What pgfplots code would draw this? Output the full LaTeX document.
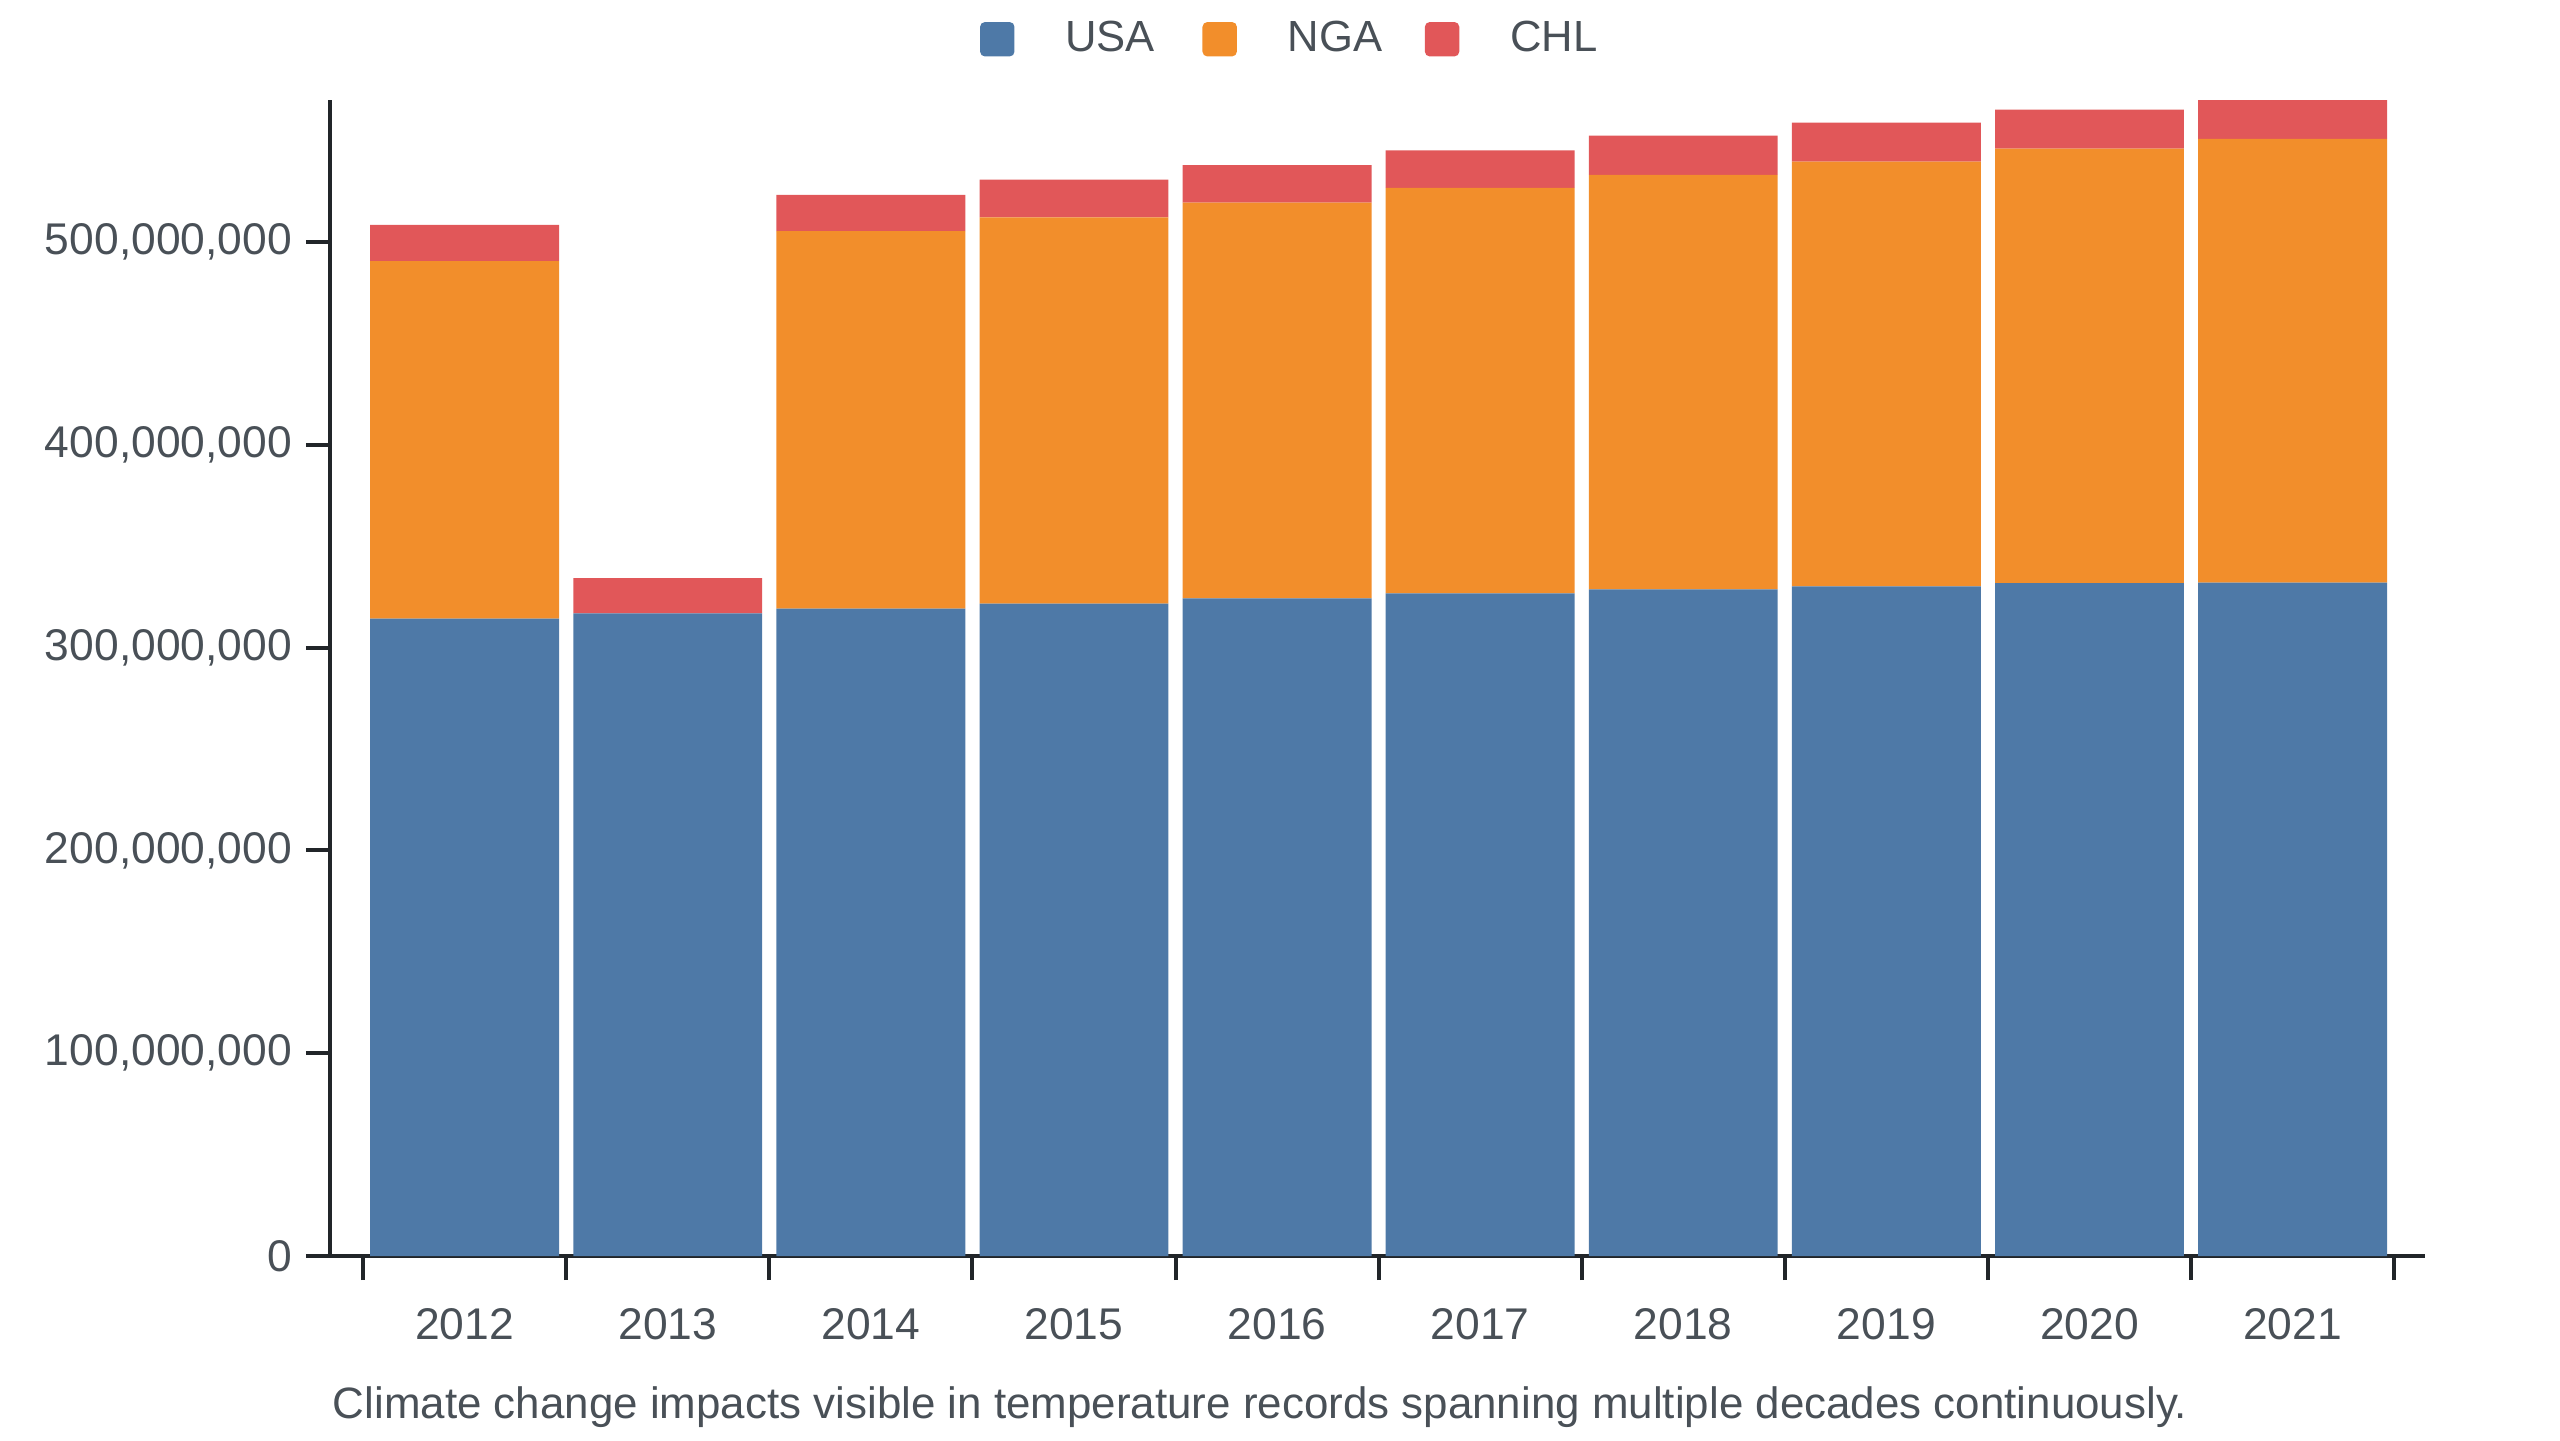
\documentclass[border=0pt]{standalone}
\usepackage{pgfplots}
\pgfplotsset{compat=1.18}
\usepackage{fontspec}
\setmainfont{Liberation Sans}
\definecolor{cUSA}{HTML}{4E79A7}
\definecolor{cNGA}{HTML}{F28E2B}
\definecolor{cCHL}{HTML}{E15759}
\definecolor{txtcol}{HTML}{495057}
\definecolor{axcol}{HTML}{212529}
\newcommand{\lblfont}{\fontsize{10.9}{13}\selectfont}
\newcommand{\capfont}{\fontsize{10.98}{13}\selectfont}
\newcommand{\tickfont}{\fontsize{11.1}{13}\selectfont}
\begin{document}
\begin{tikzpicture}
\useasboundingbox (0,0) rectangle (640pt,360pt);
\begin{axis}[
  at={(82.5pt,46pt)}, anchor=south west,
  scale only axis, width=523.75pt, height=289pt,
  xmin=-0.663, xmax=9.652, ymin=0, ymax=570000000,
  axis x line=bottom, axis y line=left,
  axis line style={-, line width=1pt, draw=axcol},
  tick align=outside, major tick length=6pt, minor tick length=6pt,
  tick style={line width=1pt, draw=axcol},
  xtick={0,...,9},
  xticklabels={2012,2013,2014,2015,2016,2017,2018,2019,2020,2021},
  xticklabel style={yshift=-3.7pt},
  minor xtick={-0.5,0.5,...,9.5},
  major x tick style={draw=none},
  ytick={0,100000000,200000000,300000000,400000000,500000000},
  scaled y ticks=false,
  yticklabel style={/pgf/number format/.cd, fixed, precision=0, 1000 sep={,}, assume math mode=true},
  tick label style={font=\tickfont, text=txtcol},
  ybar stacked, bar width=0.93,
  legend style={at={(0.3103,1)}, anchor=west, yshift=15.2pt, draw=none, fill=none,
    inner sep=0pt, outer sep=0pt,
    legend columns=3, font=\lblfont, text=txtcol,
    nodes={inner xsep=0pt, text width=34.3pt, align=left},
    /tikz/every odd column/.append style={column sep=12.7pt},
    /tikz/every even column/.append style={column sep=0pt}},
]
\addplot[fill=cUSA, draw=none, legend image code/.code={\fill[cUSA, draw=none, rounded corners=1.2pt] (0pt,-4.3pt) rectangle (8.6pt,4.3pt);}]
  coordinates {(0,314300000) (1,316900000) (2,319200000) (3,321700000) (4,324300000) (5,326800000) (6,328700000) (7,330200000) (8,331800000) (9,332100000)};
\addlegendentry{USA}
\addplot[fill=cNGA, draw=none, legend image code/.code={\fill[cNGA, draw=none, rounded corners=1.2pt] (0pt,-4.3pt) rectangle (8.6pt,4.3pt);}]
  coordinates {(0,176300000) (1,0) (2,186200000) (3,190500000) (4,195100000) (5,199900000) (6,204400000) (7,209400000) (8,214200000) (9,218700000)};
\addlegendentry{NGA}
\addplot[fill=cCHL, draw=none, legend image code/.code={\fill[cCHL, draw=none, rounded corners=1.2pt] (0pt,-4.3pt) rectangle (8.6pt,4.3pt);}]
  coordinates {(0,17800000) (1,17300000) (2,17800000) (3,18500000) (4,18500000) (5,18500000) (6,19300000) (7,19300000) (8,19300000) (9,19200000)};
\addlegendentry{CHL}
\end{axis}
\node[anchor=base west, inner sep=0pt, font=\capfont, text=txtcol] at (83pt,5.3pt) {Climate change impacts visible in temperature records spanning multiple decades continuously.};
\end{tikzpicture}
\end{document}
